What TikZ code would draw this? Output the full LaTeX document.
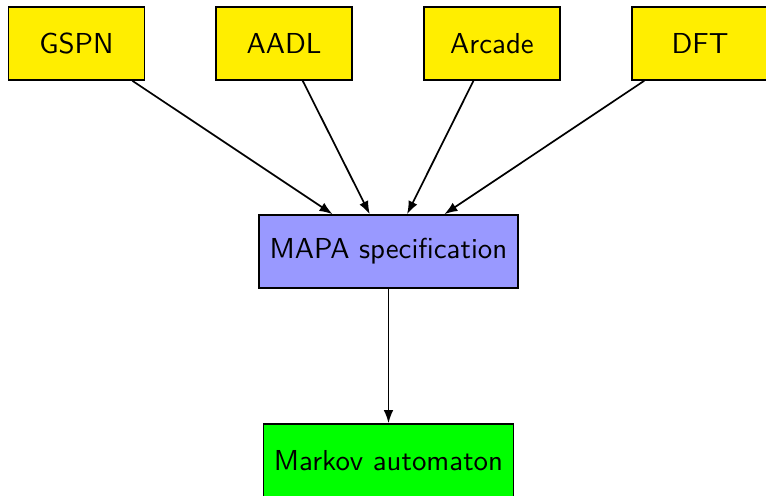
\documentclass[tikz,border=0pt]{standalone}
\usetikzlibrary{arrows.meta}
\definecolor{boxyellow}{RGB}{255,238,0}
\definecolor{boxblue}{RGB}{153,153,255}
\definecolor{boxgreen}{RGB}{0,255,0}
\begin{document}
\begin{tikzpicture}[x=0.35pt,y=-0.35pt,
  box/.style={draw=black, line width=0.6pt, minimum height=25.5pt, inner xsep=3.7pt, font=\sffamily\fontsize{10.1}{12}\selectfont, text=black},
  src/.style={box, fill=boxyellow, minimum width=47.6pt},
  arr/.style={line width=0.6pt, -{Latex[length=4.6pt,width=3.4pt]}}]
\useasboundingbox (0,0) rectangle (766,495);
\begin{scope}
\clip (0,0) rectangle (766,495);
\node[src] (gspn) at (76.5,43.5) {GSPN};
\node[src] (aadl) at (284,43.5) {AADL};
\node[src] (arcade) at (492,43.5) {Arcade};
\node[src] (dft) at (700,43.5) {DFT};
\node[box, fill=boxblue] (mapa) at (388.5,251.5) {MAPA specification};
\node[box, fill=boxgreen] (ma) at (388.5,460.5) {Markov automaton};
\draw[arr] (gspn) -- (mapa);
\draw[arr] (aadl) -- (mapa);
\draw[arr] (arcade) -- (mapa);
\draw[arr] (dft) -- (mapa);
\draw[arr] (mapa) -- (ma);
\end{scope}
\end{tikzpicture}
\end{document}
